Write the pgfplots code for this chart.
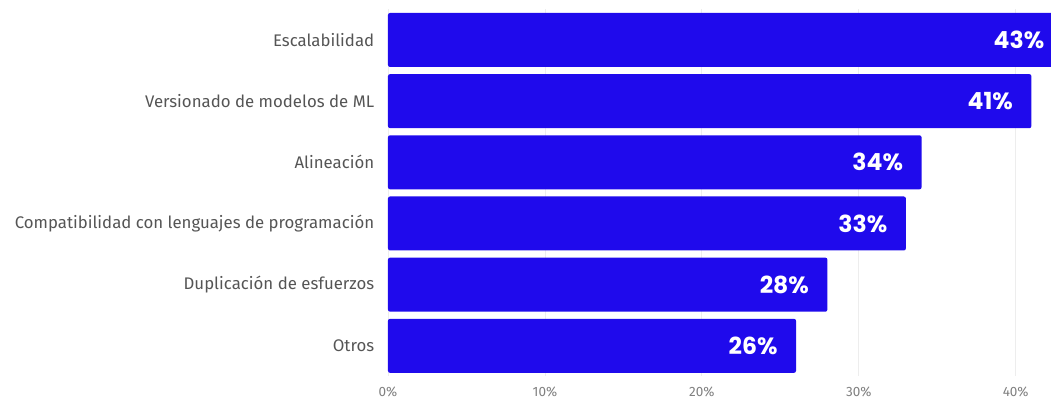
\documentclass[border=0pt]{standalone}
\usepackage{pgfplots}
\pgfplotsset{compat=1.18}
\usepackage{fontspec}
\setmainfont{Fira Sans}
\newfontfamily\valfont{Poppins}
\definecolor{barblue}{HTML}{1F0AEC}
\definecolor{labelgray}{HTML}{555555}
\definecolor{tickgray}{HTML}{808080}
\definecolor{gridgray}{HTML}{EDEDED}
\begin{document}
\begin{tikzpicture}
\path[use as bounding box] (-388pt,-24.4pt) rectangle (663pt,376.4pt);
\begin{axis}[
  at={(0,0)}, anchor=south west,
  scale only axis, clip=false,
  width=663pt, height=367pt,
  xbar, bar width=54pt,
  xmin=0, xmax=42.25,
  ymin=-0.5, ymax=5.5,
  y dir=reverse,
  axis line style={draw=none},
  tick style={draw=none},
  xtick={0,10,20,30,40},
  xticklabels={0\%,10\%,20\%,30\%,40\%},
  xticklabel style={font=\fontsize{13.5}{15}\selectfont, text=tickgray, yshift=-7pt},
  /pgf/number format/assume math mode=true,
  xmajorgrids, grid style={gridgray, line width=0.8pt},
  ytick={0,1,2,3,4,5},
  yticklabels={Escalabilidad,Versionado de modelos de ML,Alineación,Compatibilidad con lenguajes de programación,Duplicación de esfuerzos,Otros},
  yticklabel style={font=\fontsize{16.8}{19}\selectfont, text=labelgray, xshift=-6pt},
  nodes near coords={\pgfmathprintnumber{\pgfplotspointmeta}\%},
  nodes near coords style={anchor=east, xshift=-15pt, text=white, font=\valfont\fontsize{23.5}{26}\selectfont\bfseries},
]
\addplot[fill=barblue, draw=none, rounded corners=2pt] coordinates {
  (43,0) (41,1) (34,2) (33,3) (28,4) (26,5)
};
\end{axis}
\end{tikzpicture}
\end{document}
